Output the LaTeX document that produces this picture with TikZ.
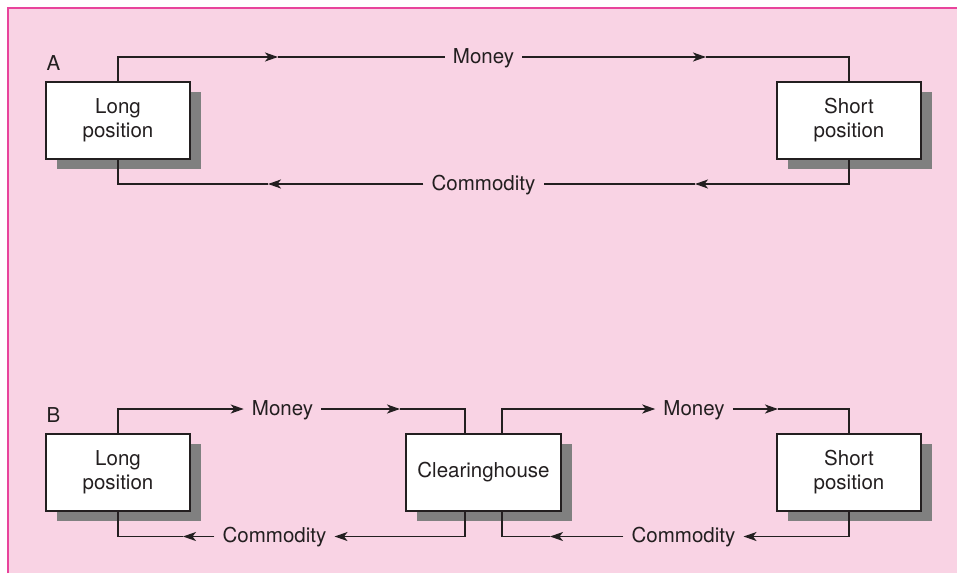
\documentclass[tikz,border=0pt]{standalone}
\usepackage{fontspec}
\setmainfont{TeX Gyre Heros}
\usetikzlibrary{arrows.meta,shadows}
\definecolor{bgpink}{HTML}{F9D3E4}
\definecolor{edgemag}{HTML}{E8449C}
\definecolor{shadowgray}{HTML}{808080}
\definecolor{ink}{HTML}{231F20}
\tikzset{
  box/.style={draw=ink, line width=1.6pt, fill=white, minimum height=77pt, text=ink,
    align=center, font=\fontsize{20.5}{24}\selectfont,
    general shadow={fill=shadowgray, shadow xshift=10.5pt, shadow yshift=-10pt}},
  flowlbl/.style={text=ink, font=\fontsize{20.5}{24}\selectfont, inner xsep=8pt, inner ysep=0pt,
    text height=15pt, text depth=3pt},
  panel/.style={text=ink, font=\fontsize{20.5}{24}\selectfont, anchor=base west, inner sep=0pt},
  conn/.style={draw=ink, line width=1.6pt},
  arr/.style={-{Stealth[length=13pt,width=9pt,inset=3.5pt]}}
}
\begin{document}
\begin{tikzpicture}[x=1pt,y=-1pt]
\useasboundingbox (0,0) rectangle (957,573);
\fill[white] (0,0) rectangle (957,573);
\fill[bgpink] (8,8) rectangle (957,573);
\draw[edgemag, line width=1.8pt] (8,573) -- (8,8) -- (957,8);

% Panel A
\node[panel] (labA) at (46.5,70) {A};
\node[box, minimum width=144pt] (longA) at (118,120.5) {Long\\position};
\node[box, minimum width=144pt] (shortA) at (849,120.5) {Short\\position};
\node[flowlbl] (moneyA) at (483.5,57) {Money};
\node[flowlbl] (commA) at (483.5,184) {Commodity};
\coordinate (aM1) at (278,57);
\coordinate (aM2) at (706,57);
\coordinate (aC1) at (268,184);
\coordinate (aC2) at (695,184);
\draw[conn,arr] (longA.north) |- (aM1);
\draw[conn] (aM1) -- (moneyA.west);
\draw[conn,arr] (moneyA.east) -- (aM2);
\draw[conn] (aM2) -| (shortA.north);
\draw[conn,arr] (shortA.south) |- (aC2);
\draw[conn] (aC2) -- (commA.east);
\draw[conn,arr] (commA.west) -- (aC1);
\draw[conn] (aC1) -| (longA.south);

% Panel B
\node[panel] (labB) at (46.5,422) {B};
\node[box, minimum width=144pt] (longB) at (118,472.5) {Long\\position};
\node[box, minimum width=155pt] (clear) at (483.5,472.5) {Clearinghouse};
\node[box, minimum width=144pt] (shortB) at (849,472.5) {Short\\position};
\coordinate (cN1) at ([xshift=-18.5pt]clear.north);
\coordinate (cN2) at ([xshift=18.5pt]clear.north);
\coordinate (cS1) at ([xshift=-18.5pt]clear.south);
\coordinate (cS2) at ([xshift=18.5pt]clear.south);
\node[flowlbl] (moneyB1) at (282.5,409) {Money};
\node[flowlbl] (moneyB2) at (694,409) {Money};
\node[flowlbl] (commB1) at (274.5,536.5) {Commodity};
\node[flowlbl] (commB2) at (683.5,536.5) {Commodity};
\coordinate (bM1) at (400,409);
\coordinate (bM2) at (778,409);
\coordinate (bC1) at (183,536.5);
\coordinate (bC2) at (550,536.5);
\draw[conn,arr] (longB.north) |- (moneyB1.west);
\draw[conn,arr] (moneyB1.east) -- (bM1);
\draw[conn] (bM1) -| (cN1);
\draw[conn,arr] (cS1) |- (commB1.east);
\draw[conn,arr] (commB1.west) -- (bC1);
\draw[conn] (bC1) -| (longB.south);
\draw[conn,arr] (cN2) |- (moneyB2.west);
\draw[conn,arr] (moneyB2.east) -- (bM2);
\draw[conn] (bM2) -| (shortB.north);
\draw[conn,arr] (shortB.south) |- (commB2.east);
\draw[conn,arr] (commB2.west) -- (bC2);
\draw[conn] (bC2) -| (cS2);
\end{tikzpicture}
\end{document}
